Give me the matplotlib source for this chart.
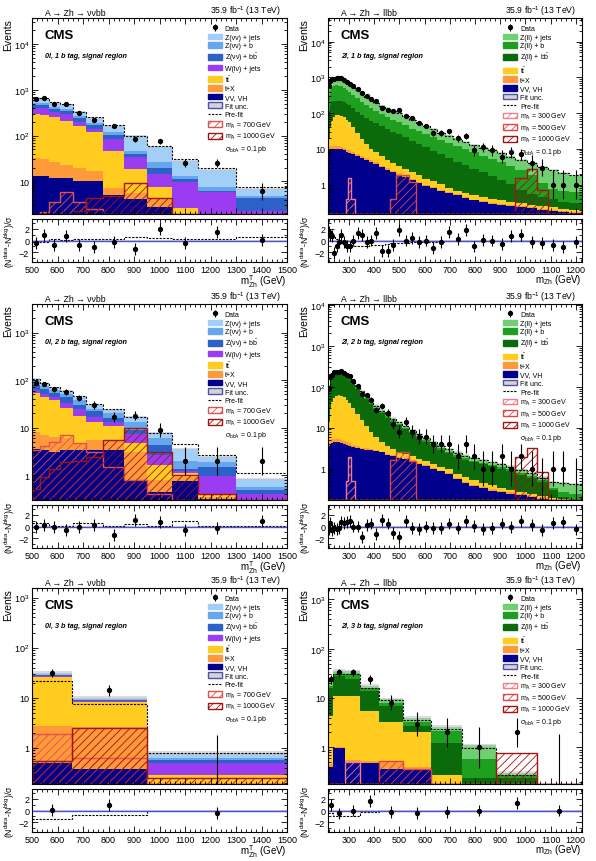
import numpy as np
import matplotlib
matplotlib.use('Agg')
import matplotlib.pyplot as plt
from matplotlib.patches import Patch
from matplotlib.lines import Line2D
from matplotlib.ticker import MultipleLocator, LogLocator, FuncFormatter, NullFormatter

plt.rcParams['font.family'] = ['Liberation Sans', 'DejaVu Sans']
plt.rcParams['mathtext.fontset'] = 'custom'
plt.rcParams['mathtext.rm'] = 'Liberation Sans'
plt.rcParams['mathtext.it'] = 'Liberation Sans:italic'
plt.rcParams['mathtext.bf'] = 'Liberation Sans:bold'
plt.rcParams['hatch.linewidth'] = 0.6

# ---------------- panel 1 : 0l, 1 b tag ----------------
p1_edges = [500, 530, 565, 610, 660, 710, 780, 860, 950, 1050, 1150, 1300, 1500]
p1_zj = [650, 640, 520, 470, 325, 240, 165, 97, 56, 28, 18, 6.8]
p1_zb = [520, 510, 420, 380, 265, 190, 120, 47, 26, 13, 7.4, 4.8]
p1_zbb = [470, 460, 380, 340, 240, 170, 105, 40, 20, 11, 6.2, 4.4]
p1_w = [400, 390, 320, 290, 200, 140, 85, 34, 14.5, 9.5, 5.7, 2.3]
p1_tt = [290, 280, 250, 210, 165, 118, 47, 18.6, 7.4, 2.6, 1, 1]
p1_tx = [32, 30, 27, 23, 20, 17, 7.0, 5.5, 4.1, 1, 1, 1]
p1_vv = [13, 13, 12, 12, 10, 10, 5.0, 4.1, 2.7, 1, 1, 1]
p1_prefit = [660, 650, 530, 480, 335, 250, 170, 100, 60, 30, 20, 7.4]
p1_data = [620, 660, 490, 480, 310, 220, 160, 82, 75, 25, 25, 6]
p1_pull = [-0.45, 1.0, -0.7, 0.7, -0.7, -1.1, -0.3, -1.5, 2.0, -0.4, 1.5, 0.1]
p1_prefit_pull = [-0.2, -0.2, 0.3, 0.1, 0.3, 0.2, 0.2, 0.6, 0.4, 0.3, 0.3, 0.6]
p1_sig700 = [0, 2.1, 3.6, 5.7, 3.6, 2.5, 1.5, 0, 0, 0, 0, 0]
p1_sig1000 = [0, 0, 0, 0, 2.2, 4.3, 4.8, 9.0, 4.3, 1.5, 1.0, 0]
p1_unc = 0.05

# ---------------- panel 2 : 2l, 1 b tag ----------------
p2_edges = [216, 222, 228, 234, 245, 255, 264, 275, 286, 297, 308, 324, 344, 360, 378,
            396, 420, 442, 463, 487, 511, 537, 565, 591, 620, 649, 680, 713, 748, 778,
            815, 851, 887, 924, 960, 1005, 1046, 1088, 1128, 1175, 1225]
p2_zj = [550, 750, 880, 960, 1000, 990, 940, 850, 760, 660,
         560, 450, 360, 300, 250, 205, 165, 140, 120, 102,
         85, 68, 55, 44, 36, 29, 24, 19.5, 16, 13,
         11, 9.2, 7.6, 6.2, 5.0, 4.0, 3.2, 2.6, 2.1, 1.8]
p2_zb = [330, 450, 530, 580, 600, 590, 560, 510, 450, 390,
         330, 260, 205, 165, 135, 112, 92, 78, 66, 56,
         46, 37, 31, 26, 21, 17.5, 15, 12, 10, 8,
         6.5, 5.3, 4.2, 3.3, 2.5, 1.8, 1.1, 0.75, 0.65, 0.6]
p2_zbb = [120, 170, 200, 215, 225, 225, 215, 200, 180, 165,
          140, 110, 88, 72, 62, 52, 43, 36, 30, 26,
          21, 17, 13.5, 11, 8.8, 7, 5.5, 4.4, 3.5, 2.75,
          2.2, 1.7, 1.3, 1.05, 0.7, 0.55, 0.45, 0.4, 0.33, 0.3]
p2_tt = [19, 40, 60, 78, 86, 87, 84, 76, 66, 56,
         42, 28, 19, 13.5, 10, 8, 6.2, 5.0, 4.1, 3.4,
         2.7, 2.2, 1.8, 1.45, 1.25, 1.05, 0.8, 0.68, 0.58, 0.5,
         0.45, 0.4, 0.36, 0.33, 0.3, 0.27, 0.25, 0.23, 0.21, 0.2]
p2_tx = [11, 11.8, 12, 12.2, 12.2, 12, 11.5, 10.8, 10, 9.2,
         8.2, 7.2, 6.4, 5.6, 4.9, 4.2, 3.4, 2.85, 2.4, 2.05,
         1.72, 1.4, 1.18, 0.98, 0.85, 0.72, 0.62, 0.53, 0.45, 0.38,
         0.34, 0.31, 0.29, 0.27, 0.25, 0.23, 0.21, 0.19, 0.18, 0.17]
p2_vv = [9, 9.8, 10, 10.2, 10.2, 10, 9.6, 9.0, 8.4, 7.8,
         7.0, 6.3, 5.6, 5.0, 4.4, 3.8, 3.1, 2.6, 2.2, 1.9,
         1.6, 1.3, 1.1, 0.92, 0.8, 0.68, 0.58, 0.5, 0.42, 0.36,
         0.32, 0.29, 0.27, 0.25, 0.23, 0.22, 0.2, 0.18, 0.17, 0.16]
p2_prefit = [600, 800, 920, 980, 990, 960, 900, 810, 720, 630,
             530, 430, 345, 285, 238, 196, 158, 134, 115, 98,
             82, 66, 53, 43, 35, 28, 23, 18.5, 15.2, 12.5,
             10.6, 9.0, 7.5, 6.1, 5.0, 4.0, 3.2, 2.6, 2.1, 1.8]
p2_data = [585, 775, 900, 895, 968, 984, 968, 844, 735, 634,
           560, 475, 377, 295, 250, 222, 143, 119, 112, 119,
           85, 71, 53, 44, 28, 27, 31, 20, 23, 9,
           11, 9, 6, 8, 7, 4, 3, 1, 1, 1]
p2_pull = [1.5, 0.9, 0.7, -2.1, -1.0, -0.2, 0.9, -0.2, -0.9, -1.0,
           0.0, 1.2, 0.9, -0.3, 0.0, 1.2, -1.7, -1.8, -0.7, 1.7,
           0.0, 0.4, -0.2, 0.0, -1.3, -0.3, 1.5, 0.2, 1.7, -1.0,
           0.1, 0.0, -0.6, 0.7, 1.0, -0.2, -0.4, -0.8, -1.1, -0.3]
p2_prefit_pull = [2.0, 1.6, 1.2, 0.6, 0.2, -0.2, -0.5, -0.8, -0.9, -1.0,
                  -1.0, -1.0, -0.9, -0.9, -0.8, -0.8, -0.7, -0.6, -0.5, -0.4,
                  -0.4, -0.3, -0.3, -0.2, -0.2, -0.2, -0.1, -0.1, -0.1, 0.0,
                  0.0, 0.0, 0.0, 0.0, 0.0, 0.0, 0.0, 0.0, 0.0, 0.0]
p2_sig300 = [0, 0, 0, 0, 0, 0, 0, 0, 0.4, 1.5,
             0.4, 0, 0, 0, 0, 0, 0, 0, 0, 0,
             0, 0, 0, 0, 0, 0, 0, 0, 0, 0,
             0, 0, 0, 0, 0, 0, 0, 0, 0, 0]
p2_sig500 = [0, 0, 0, 0, 0, 0, 0, 0, 0, 0,
             0, 0, 0, 0, 0, 0, 0, 0, 0.4, 1.9,
             1.9, 1.2, 0, 0, 0, 0, 0, 0, 0, 0,
             0, 0, 0, 0, 0, 0, 0, 0, 0, 0]
p2_sig1000 = [0, 0, 0, 0, 0, 0, 0, 0, 0, 0,
              0, 0, 0, 0, 0, 0, 0, 0, 0, 0,
              0, 0, 0, 0, 0, 0, 0, 0, 0, 0,
              0, 0, 0, 0, 1.5, 2.75, 0.72, 0, 0, 0]
p2_unc = 0.05

# ---------------- panel 3 : 0l, 2 b tag ----------------
p3_edges = [500, 530, 565, 610, 660, 710, 780, 860, 950, 1050, 1150, 1300, 1500]
p3_zj = [105, 84, 68, 58, 44, 30, 24, 16.5, 7.6, 3.6, 2.4, 0.85]
p3_zb = [94, 76, 62, 52, 39, 25, 20, 13, 6.0, 2.0, 1.9, 0.56]
p3_zbb = [80, 66, 53, 44, 30, 22, 16, 9.0, 4.3, 1.35, 1.5, 0.48]
p3_w = [62, 52, 45, 33, 25, 17, 13.4, 7.5, 2.7, 1.2, 0.95, 0.41]
p3_tt = [53, 45, 38, 26, 18, 13.4, 11, 4.7, 1.6, 1.1, 0.41, 0.3]
p3_tx = [8.2, 7.0, 6.5, 6.0, 4.7, 5.5, 5.5, 3.0, 0.8, 0.92, 0.35, 0.25]
p3_vv = [3.6, 3.4, 3.0, 3.4, 3.4, 3.4, 3.4, 0.8, 0.45, 0.75, 0.32, 0.2]
p3_prefit = [108, 88, 70, 60, 46, 31, 25, 17, 7.8, 4.5, 2.7, 1.1]
p3_data = [89, 82, 64, 56, 42, 30, 17, 18, 9, 2, 2, 2]
p3_pull = [-0.1, 0.3, -0.1, -0.6, -0.1, 0.3, -1.4, 1.1, 0.7, -0.6, -0.2, 1.0]
p3_prefit_pull = [0.55, 0.55, 0.15, 0.15, 0.55, 0.55, 0.15, 0.45, 0.15, 0.9, 0.15, 0.15]
p3_sig700 = [3.4, 4.2, 5.0, 7.0, 4.7, 3.0, 1.5, 0.8, 0.4, 0.2, 0.1, 0]
p3_sig1000 = [0.52, 0.92, 1.35, 1.9, 2.0, 2.4, 5.5, 9.7, 3.1, 1.0, 0.4, 0.15]
p3_unc = 0.05

# ---------------- panel 4 : 2l, 2 b tag ----------------
p4_edges = p2_edges
p4_zj = [95, 160, 200, 230, 240, 238, 225, 205, 185, 165,
         135, 105, 80, 60, 45, 35, 27, 21, 17, 14,
         11, 8.8, 7.0, 5.6, 4.5, 3.7, 3.0, 2.5, 2.1, 1.85,
         1.65, 1.45, 1.3, 1.15, 0.95, 0.78, 0.62, 0.48, 0.45, 0.42]
p4_zb = [88, 146, 183, 208, 218, 216, 203, 186, 167, 150,
         123, 95, 72, 54, 40.5, 31, 24, 18.8, 15, 12.3,
         9.7, 7.8, 6.1, 4.9, 3.9, 3.15, 2.6, 2.1, 1.78, 1.57,
         1.4, 1.24, 1.1, 0.95, 0.78, 0.64, 0.52, 0.34, 0.26, 0.24]
p4_zbb = [84, 140, 175, 200, 210, 208, 195, 178, 160, 143,
          117, 90, 68, 51, 38, 29, 22.5, 17.5, 14, 11.5,
          9, 7.2, 5.6, 4.5, 3.6, 2.9, 2.4, 1.95, 1.65, 1.45,
          1.3, 1.15, 1.0, 0.85, 0.7, 0.58, 0.48, 0.3, 0.2, 0.18]
p4_tt = [14, 28, 42, 54, 60, 62, 60, 55, 48, 40,
         31, 22, 15.5, 11, 8, 6, 4.5, 3.6, 3.0, 2.6,
         2.3, 2.0, 1.75, 1.5, 1.3, 1.1, 0.95, 0.75, 0.62, 0.52,
         0.45, 0.4, 0.34, 0.3, 0.27, 0.24, 0.21, 0.19, 0.18, 0.17]
p4_tx = [4.2, 4.8, 5.2, 5.3, 5.4, 5.2, 5.0, 4.7, 4.4, 4.1,
         3.8, 3.5, 3.25, 3.1, 3.0, 2.85, 2.6, 2.3, 2.1, 1.9,
         1.78, 1.62, 1.36, 1.2, 1.05, 0.89, 0.76, 0.58, 0.48, 0.4,
         0.35, 0.31, 0.28, 0.26, 0.24, 0.21, 0.19, 0.17, 0.16, 0.15]
p4_vv = [3.5, 4.0, 4.3, 4.4, 4.5, 4.4, 4.2, 4.0, 3.8, 3.6,
         3.4, 3.2, 3.0, 2.9, 2.8, 2.7, 2.5, 2.2, 2.0, 1.8,
         1.7, 1.55, 1.3, 1.15, 1.0, 0.85, 0.72, 0.55, 0.45, 0.38,
         0.33, 0.29, 0.26, 0.24, 0.22, 0.2, 0.18, 0.16, 0.15, 0.14]
p4_prefit = [98, 165, 205, 232, 242, 238, 224, 203, 182, 162,
             132, 102, 78, 58, 44, 34, 26, 20.5, 16.5, 13.5,
             10.7, 8.6, 6.9, 5.5, 4.4, 3.6, 2.95, 2.45, 2.05, 1.8,
             1.6, 1.42, 1.27, 1.12, 0.93, 0.76, 0.6, 0.47, 0.44, 0.41]
p4_data = [91, 168, 192, 227, 234, 235, 236, 214, 195, 178,
           135, 105, 65, 62, 48, 27, 33, 23, 12, 8,
           14, 8, 6, 6, 4, 4, 4, 2, 4, 2,
           1, 1, 2, 1, 2, 1, 0, 1, 1, 0]
p4_pull = [-0.4, 0.6, -0.6, -0.2, -0.4, -0.2, 0.7, 0.6, 0.7, 1.0,
           0.0, 0.0, -1.7, 0.3, 0.5, -1.3, 1.1, 0.5, -1.1, -1.7,
           1.0, -0.2, -0.4, 0.0, -0.2, -0.2, 0.5, -0.2, 1.0, 0.1,
           -0.4, -0.3, 0.5, -0.1, 1.0, 0.2, -0.6, 0.6, 0.7, -0.5]
p4_prefit_pull = [0.5, 0.4, 0.3, 0.2, 0.1, 0.0, 0.0, -0.1, -0.1, -0.1,
                  -0.1, -0.1, -0.1, -0.1, 0.0, 0.0, 0.0, 0.0, 0.0, 0.0,
                  0.0, 0.0, 0.0, 0.0, 0.0, 0.0, 0.0, 0.0, 0.0, 0.0,
                  0.0, 0.0, 0.0, 0.0, 0.0, 0.0, 0.0, 0.0, 0.0, 0.0]
p4_sig300 = [0, 0, 0, 0, 0, 0, 0, 0, 0.5, 1.9,
             0.5, 0, 0, 0, 0, 0, 0, 0, 0, 0,
             0, 0, 0, 0, 0, 0, 0, 0, 0, 0,
             0, 0, 0, 0, 0, 0, 0, 0, 0, 0]
p4_sig500 = [0, 0, 0, 0, 0, 0, 0, 0, 0, 0,
             0, 0, 0, 0, 0, 0, 0, 0, 1.6, 2.5,
             2.5, 1.5, 0, 0, 0, 0, 0, 0, 0, 0,
             0, 0, 0, 0, 0, 0, 0, 0, 0, 0]
p4_sig1000 = [0, 0, 0, 0, 0, 0, 0, 0, 0, 0,
              0, 0, 0, 0, 0, 0, 0, 0, 0, 0,
              0, 0, 0, 0, 0, 0, 0, 0, 0, 0,
              0, 0, 0, 0, 1.95, 3.1, 0.83, 0, 0, 0]
p4_unc = 0.05

# ---------------- panel 5 : 0l, 3 b tag ----------------
p5_edges = [500, 655, 950, 1500]
p5_zj = [31.6, 10, 0.78]
p5_zb = [30, 9.5, 0.63]
p5_zbb = [29, 9.0, 0.57]
p5_w = [27, 8.6, 0.5]
p5_tt = [26, 8.2, 0.29]
p5_tx = [2.7, 2.6, 0.2]
p5_vv = [0.5, 0.37, 0.19]
p5_prefit = [21.5, 7.4, 0.78]
p5_data = [31, 14, 0]
p5_pull = [0.1, 0.9, -0.35]
p5_prefit_pull = [-1.4, -0.8, 0.0]
p5_sig700 = [1.85, 0.63, 0]
p5_sig1000 = [0.55, 2.5, 0.25]
p5_unc = 0.1

# ---------------- panel 6 : 2l, 3 b tag ----------------
p6_edges = [216, 236, 285, 345, 420, 515, 625, 750, 885, 1045, 1225]
p6_zj = [24, 36, 35, 17.5, 9.4, 3.9, 2.6, 1.1, 0.3, 0.17]
p6_zb = [17.5, 30, 30, 15.7, 8.0, 3.2, 2.1, 0.57, 0.28, 0.16]
p6_zbb = [16, 28, 24, 14, 6.9, 2.7, 1.25, 0.24, 0.24, 0.15]
p6_tt = [4.3, 11, 11, 5.5, 3.2, 2.0, 0.28, 0.1, 0.1, 0.1]
p6_tx = [0.45, 1.0, 0.55, 0.52, 0.52, 0.4, 0.1, 0.1, 0.1, 0.1]
p6_vv = [0.4, 0.98, 0.5, 0.49, 0.36, 0.35, 0.1, 0.1, 0.1, 0.1]
p6_prefit = [22, 30, 31, 16, 9.0, 3.6, 2.4, 0.95, 0.28, 0.16]
p6_data = [24, 33, 33, 24, 8, 3, 2, 1, 2, 0]
p6_pull = [0.9, -0.5, 0.0, 1.6, -0.3, -0.35, -0.2, 0.0, 1.3, 0.0]
p6_prefit_pull = [-0.5, -0.85, -0.85, -0.3, -0.15, -0.15, -0.15, -0.1, 0.0, 0.0]
p6_sig300 = [0, 0, 0.5, 0, 0, 0, 0, 0, 0, 0]
p6_sig500 = [0, 0, 0, 0, 0.53, 0.36, 0, 0, 0, 0]
p6_sig1000 = [0, 0, 0, 0, 0, 0, 0, 0, 0.78, 0]
p6_unc = 0.08

# ---------------- labels / styles ----------------
LABELS_0L = ['Z(νν) + jets', 'Z(νν) + b', r'Z(νν) + b$\bar{\mathrm{b}}$', 'W(lν) + jets',
             r't$\bar{\mathrm{t}}$', 't+X', 'VV, VH']
LABELS_2L = ['Z(ll) + jets', 'Z(ll) + b', r'Z(ll) + b$\bar{\mathrm{b}}$',
             r't$\bar{\mathrm{t}}$', 't+X', 'VV, VH']
COLORS_0L = ['#a2cff7', '#68a6ec', '#2c62c8', '#9a3cf0', '#ffcc1f', '#ff9a3a', '#00008c']
COLORS_2L = ['#70cf70', '#1f9f1f', '#0b6b0b', '#ffcc1f', '#ff9a3a', '#00008c']
SIG_LABELS_0L = [r'm$_{\mathrm{A}}$ = 700 GeV', r'm$_{\mathrm{A}}$ = 1000 GeV']
SIG_LABELS_2L = [r'm$_{\mathrm{A}}$ = 300 GeV', r'm$_{\mathrm{A}}$ = 500 GeV', r'm$_{\mathrm{A}}$ = 1000 GeV']
SIG_COLORS_0L = ['#e25050', '#a01414']
SIG_COLORS_2L = ['#f07c8c', '#dc4646', '#a01414']
ZERO_UP = 1.84

W, H = 596, 862
COL_X = [32, 328]
COL_W = [255, 254]
ROW_T = [19, 305, 589]
MAIN_H, GAP, RATIO_H = 196, 5, 43

fig = plt.figure(figsize=(W / 100, H / 100), dpi=100)


def log_fmt(v, pos):
    e = np.log10(v)
    if abs(e - round(e)) > 1e-6:
        return ''
    e = int(round(e))
    if e == 0:
        return '1'
    if e == 1:
        return '10'
    return r'$10^{%d}$' % e


def style_ticks(ax):
    ax.tick_params(which='both', direction='in', top=True, right=True, labelsize=6.5, width=0.6, pad=2)
    ax.tick_params(which='major', length=4)
    ax.tick_params(which='minor', length=2)
    for s in ax.spines.values():
        s.set_linewidth(0.8)


def draw(col, row, edges, levels, colors, labels, prefit, data, pull, prefit_pull,
         sigs, sig_colors, sig_labels, ylim, xlim, header, region, xlabel, unc):
    x0, w, top = COL_X[col], COL_W[col], ROW_T[row]
    ax = fig.add_axes([x0 / W, 1 - (top + MAIN_H) / H, w / W, MAIN_H / H])
    rax = fig.add_axes([x0 / W, 1 - (top + MAIN_H + GAP + RATIO_H) / H, w / W, RATIO_H / H])
    edges = np.array(edges, float)
    centers = 0.5 * (edges[1:] + edges[:-1])
    ymin = ylim[0]

    # stacked backgrounds (cumulative levels, drawn top first)
    handles = []
    for lev, c, lab in zip(levels, colors, labels):
        ax.stairs(lev, edges, baseline=1e-3, fill=True, color=c, lw=0)
        handles.append(Patch(facecolor=c, edgecolor=c, label=lab))
    total = np.array(levels[0], float)
    ax.stairs(total * (1 + unc), edges, baseline=total * (1 - unc), fill=True,
              facecolor='#c4c4cc', alpha=0.6, lw=0)
    ax.stairs(prefit, edges, baseline=None, color='k', ls=(0, (2, 1.2)), lw=0.8)

    sig_handles = []
    for s, c, lab in zip(sigs, sig_colors, sig_labels):
        s = np.maximum(np.array(s, float), ymin)
        ax.stairs(s, edges, baseline=ymin, fill=True, facecolor='none', edgecolor=c,
                  hatch='////', lw=1.0)
        sig_handles.append(Patch(facecolor='white', edgecolor=c, hatch='////', lw=1.0, label=lab))

    data = np.array(data, float)
    nz = data > 0
    err = np.sqrt(data + 0.25)
    hdata = ax.errorbar(centers[nz], data[nz], yerr=[err[nz] - 0.5, err[nz] + 0.5], fmt='o',
                        ms=2.8, color='k', lw=0.8, capsize=0, label='Data')
    if (~nz).any():
        ax.vlines(centers[~nz], ymin, ZERO_UP, color='k', lw=0.8)

    ax.set_yscale('log')
    ax.set_ylim(ylim)
    ax.set_xlim(xlim)
    ax.yaxis.set_major_locator(LogLocator(base=10, numticks=15))
    ax.yaxis.set_minor_locator(LogLocator(base=10, subs=np.arange(2, 10), numticks=15))
    ax.yaxis.set_major_formatter(FuncFormatter(log_fmt))
    ax.yaxis.set_minor_formatter(NullFormatter())
    ax.xaxis.set_major_locator(MultipleLocator(100))
    ax.xaxis.set_minor_locator(MultipleLocator(20))
    style_ticks(ax)
    ax.tick_params(labelbottom=False)
    ax.set_ylabel('Events', loc='top', fontsize=7.5)
    ax.yaxis.set_label_coords(-0.075, 1.0)

    ax.text(0.05, 1.004, header, transform=ax.transAxes, fontsize=6.2, va='bottom', ha='left')
    ax.text(0.975, 1.004, r'35.9 fb$^{-1}$ (13 TeV)', transform=ax.transAxes, fontsize=6.2,
            va='bottom', ha='right')
    ax.text(0.05, 0.915, 'CMS', transform=ax.transAxes, fontsize=9.5, fontweight='bold', va='center')
    ax.text(0.05, 0.81, region, transform=ax.transAxes, fontsize=5.2, fontweight='bold',
            style='italic', va='center')

    leg_h = [hdata] + handles + [Patch(facecolor='#d4d4d8', edgecolor='#5050a0', lw=1.0, label='Fit unc.'),
                                 Line2D([], [], color='k', ls=(0, (2, 1.2)), lw=0.8, label='Pre-fit')]
    leg_h += sig_handles
    leg_h.append(Patch(facecolor='none', edgecolor='none', label=r'σ$_{\mathrm{bbA}}$ = 0.1 pb'))
    ax.legend(handles=leg_h, loc='upper left', bbox_to_anchor=(0.69, 0.965), frameon=False,
              fontsize=5, handlelength=2.0, handleheight=0.9, labelspacing=0.2,
              handletextpad=0.4, borderpad=0, borderaxespad=0)

    # pull panel
    rax.axhspan(-0.12, 0.12, color='#cfcff0', lw=0)
    rax.axhline(0, color='#5050c8', lw=1.0)
    rax.stairs(prefit_pull, edges, baseline=None, color='k', ls=(0, (2, 1.2)), lw=0.8)
    rax.errorbar(centers, pull, yerr=1, fmt='o', ms=2.8, color='k', lw=0.8, capsize=0)
    rax.set_xlim(xlim)
    rax.set_ylim(-3.6, 3.6)
    rax.set_yticks([-2, 0, 2])
    rax.yaxis.set_minor_locator(MultipleLocator(1))
    rax.xaxis.set_major_locator(MultipleLocator(100))
    rax.xaxis.set_minor_locator(MultipleLocator(20))
    style_ticks(rax)
    rax.set_xlabel(xlabel, loc='right', fontsize=7.0, labelpad=-1)
    rax.set_ylabel(r'(N$^{\mathrm{data}}$-N$^{\mathrm{bkg}}$)/σ', fontsize=6.2)
    rax.yaxis.set_label_coords(-0.06, 0.5)


HEADER_0L = 'A → Zh → ννbb'
HEADER_2L = 'A → Zh → llbb'
XLABEL_0L = r'm$^{\mathrm{T}}_{\mathrm{Zh}}$ (GeV)'
XLABEL_2L = r'm$_{\mathrm{Zh}}$ (GeV)'

draw(0, 0, p1_edges, [p1_zj, p1_zb, p1_zbb, p1_w, p1_tt, p1_tx, p1_vv], COLORS_0L, LABELS_0L,
     p1_prefit, p1_data, p1_pull, p1_prefit_pull, [p1_sig700, p1_sig1000], SIG_COLORS_0L, SIG_LABELS_0L,
     (1.93, 3.7e4), (500, 1500), HEADER_0L, '0l, 1 b tag, signal region', XLABEL_0L, p1_unc)
draw(1, 0, p2_edges, [p2_zj, p2_zb, p2_zbb, p2_tt, p2_tx, p2_vv], COLORS_2L, LABELS_2L,
     p2_prefit, p2_data, p2_pull, p2_prefit_pull, [p2_sig300, p2_sig500, p2_sig1000], SIG_COLORS_2L,
     SIG_LABELS_2L, (0.15, 4.6e4), (216, 1225), HEADER_2L, '2l, 1 b tag, signal region', XLABEL_2L, p2_unc)
draw(0, 1, p3_edges, [p3_zj, p3_zb, p3_zbb, p3_w, p3_tt, p3_tx, p3_vv], COLORS_0L, LABELS_0L,
     p3_prefit, p3_data, p3_pull, p3_prefit_pull, [p3_sig700, p3_sig1000], SIG_COLORS_0L, SIG_LABELS_0L,
     (0.3, 4000), (500, 1500), HEADER_0L, '0l, 2 b tag, signal region', XLABEL_0L, p3_unc)
draw(1, 1, p4_edges, [p4_zj, p4_zb, p4_zbb, p4_tt, p4_tx, p4_vv], COLORS_2L, LABELS_2L,
     p4_prefit, p4_data, p4_pull, p4_prefit_pull, [p4_sig300, p4_sig500, p4_sig1000], SIG_COLORS_2L,
     SIG_LABELS_2L, (0.17, 1.05e4), (216, 1225), HEADER_2L, '2l, 2 b tag, signal region', XLABEL_2L, p4_unc)
draw(0, 2, p5_edges, [p5_zj, p5_zb, p5_zbb, p5_w, p5_tt, p5_tx, p5_vv], COLORS_0L, LABELS_0L,
     p5_prefit, p5_data, p5_pull, p5_prefit_pull, [p5_sig700, p5_sig1000], SIG_COLORS_0L, SIG_LABELS_0L,
     (0.19, 1550), (500, 1500), HEADER_0L, '0l, 3 b tag, signal region', XLABEL_0L, p5_unc)
draw(1, 2, p6_edges, [p6_zj, p6_zb, p6_zbb, p6_tt, p6_tx, p6_vv], COLORS_2L, LABELS_2L,
     p6_prefit, p6_data, p6_pull, p6_prefit_pull, [p6_sig300, p6_sig500, p6_sig1000], SIG_COLORS_2L,
     SIG_LABELS_2L, (0.18, 1700), (216, 1225), HEADER_2L, '2l, 3 b tag, signal region', XLABEL_2L, p6_unc)

fig.savefig('out.png', dpi=100)
